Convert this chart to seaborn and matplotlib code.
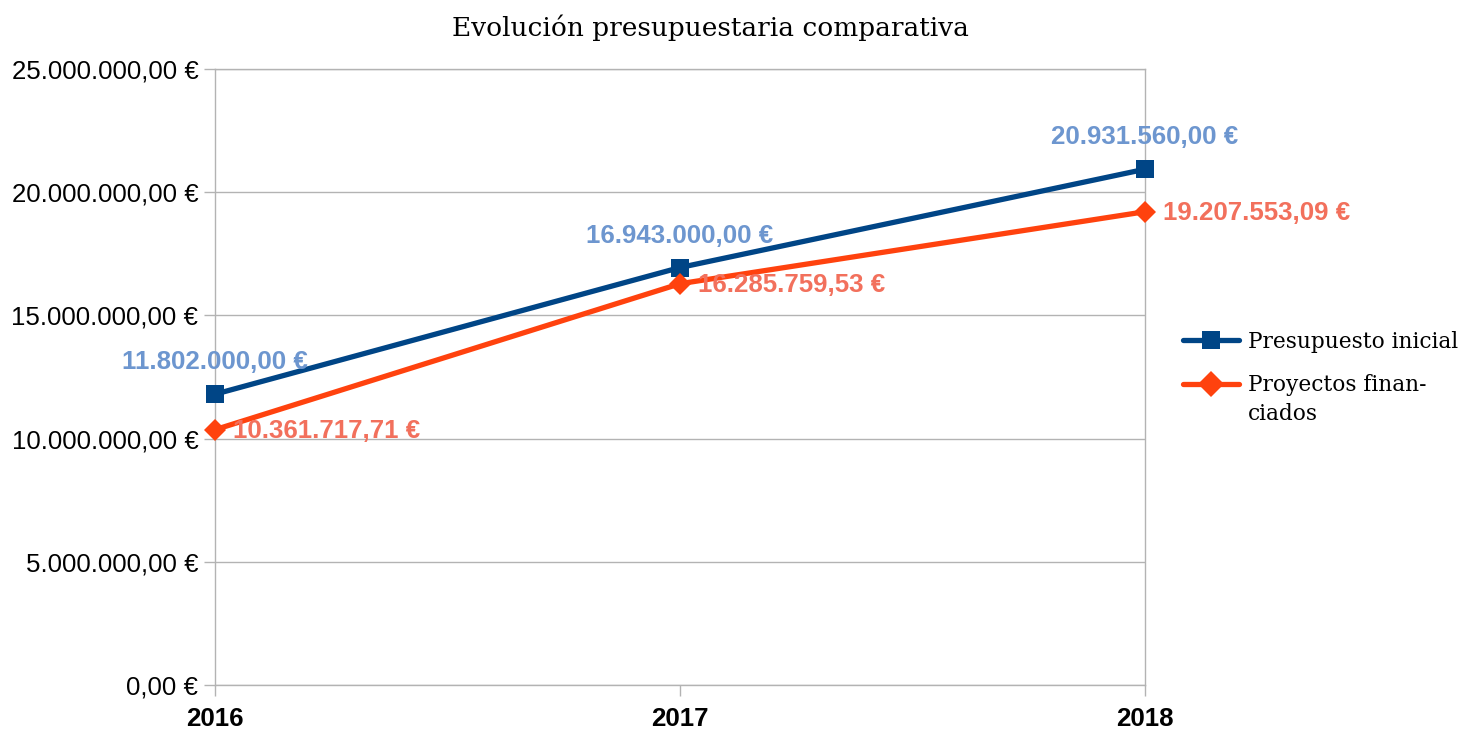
import pandas as pd
import seaborn as sns
import matplotlib.pyplot as plt

years = ["2016", "2017", "2018"]
presupuesto_inicial = [11802000.00, 16943000.00, 20931560.00]
proyectos_financiados = [10361717.71, 16285759.53, 19207553.09]
series_names = ["Presupuesto inicial", "Proyectos finan-"]
name_wrap = "ciados"
yticks = [0, 5000000, 10000000, 15000000, 20000000, 25000000]

LINE_COLORS = ["#004586", "#ff420e"]
LABEL_COLORS = ["#6d96cf", "#f2705c"]
SERIF = ["DejaVu Serif", "Liberation Serif"]


def euro(v):
    s = f"{v:,.2f}".replace(",", "X").replace(".", ",").replace("X", ".")
    return s + " €"


df = pd.DataFrame({
    "year": list(range(len(years))) * 2,
    "value": presupuesto_inicial + proyectos_financiados,
    "serie": [series_names[0]] * 3 + [series_names[1]] * 3,
})

sns.set_theme(style="white")
plt.rcParams["font.family"] = ["Liberation Sans", "DejaVu Sans"]
plt.rcParams["text.color"] = "black"
plt.rcParams["xtick.color"] = "black"
plt.rcParams["ytick.color"] = "black"

fig = plt.figure(figsize=(14.65, 7.31), dpi=100)
ax = fig.add_axes([215 / 1465, 1 - 685 / 731, 930 / 1465, 616 / 731])

sns.lineplot(data=df, x="year", y="value", hue="serie", style="serie",
             markers=["s", "D"], dashes=False, palette=LINE_COLORS,
             linewidth=3.8, markersize=13, markeredgewidth=0, ax=ax)
ax.lines[1].set_markersize(11)
for line in ax.lines:
    line.set_clip_on(False)
    line.set_zorder(5)

# data labels
for i, v in enumerate(presupuesto_inicial):
    ax.annotate(euro(v), (i, v), xytext=(0, 23), textcoords="offset points",
                ha="center", va="center", fontsize=18.6, fontweight="bold",
                color=LABEL_COLORS[0], zorder=6)
for i, v in enumerate(proyectos_financiados):
    ax.annotate(euro(v), (i, v), xytext=(13, -1), textcoords="offset points",
                ha="left", va="center", fontsize=18.6, fontweight="bold",
                color=LABEL_COLORS[1], zorder=6)

ax.set_xlim(0, len(years) - 1)
ax.set_ylim(0, 25000000)
ax.set_xticks(range(len(years)))
ax.set_xticklabels(years, fontsize=18.6, fontweight="bold")
ax.set_yticks(yticks)
ax.set_yticklabels([euro(t) for t in yticks], fontsize=18.6)
ax.set_xlabel("")
ax.set_ylabel("")
ax.yaxis.grid(True, color="#b3b3b3", linewidth=1)
ax.tick_params(axis="both", length=8, width=1, color="#b3b3b3", labelcolor="black",
               pad=4, left=True, bottom=True)
ax.tick_params(axis="x", pad=8)
for side in ["left", "right", "bottom", "top"]:
    ax.spines[side].set_color("#b3b3b3")
    ax.spines[side].set_linewidth(1)

fig.text((449 + 972) / 2 / 1465, 1 - 28 / 731, "Evolución presupuestaria comparativa",
         ha="center", va="center", fontsize=19, family=SERIF, color="black")

handles, labels = ax.get_legend_handles_labels()
leg = ax.legend(handles, labels, loc="upper left",
                bbox_to_anchor=(1174 / 1465, 1 - 322 / 731),
                bbox_transform=fig.transFigure, frameon=False, handlelength=2.6,
                prop={"family": SERIF, "size": 15.6},
                labelspacing=1.0, handletextpad=0.4, borderaxespad=0)
for t in leg.get_texts():
    t.set_color("black")

# wrapped second line of the second legend entry
fig.canvas.draw()
bb = leg.get_texts()[1].get_window_extent()
fig.text(bb.x0 / 1465, (bb.y0 + bb.y1) / 2 / 731 - 29 / 731, name_wrap,
         ha="left", va="center", fontsize=15.6, family=SERIF, color="black")

fig.savefig("out.png", dpi=100)
